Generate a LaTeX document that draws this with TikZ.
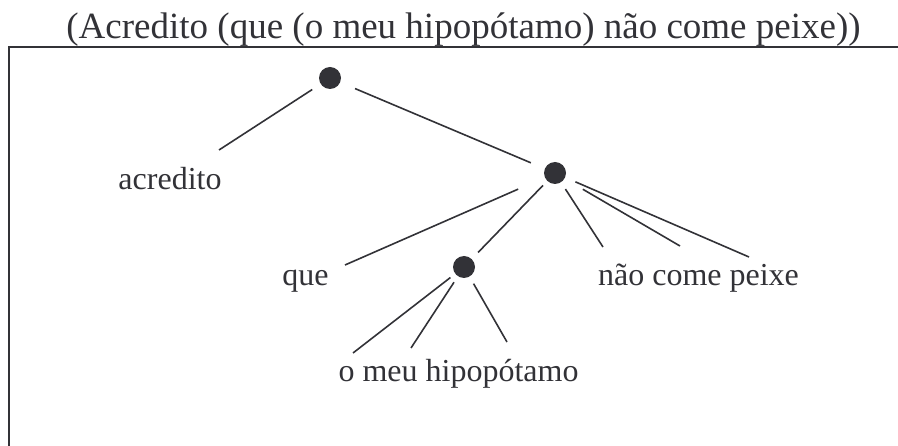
\documentclass[tikz,border=0pt]{standalone}
\usepackage{fontspec}
\setmainfont{Liberation Serif}
\definecolor{ink}{RGB}{50,50,55}
\begin{document}
\begin{tikzpicture}[x=1pt,y=-1pt,
  dot/.style={circle,fill=ink,draw=none,inner sep=0pt,minimum size=22pt},
  lbl/.style={anchor=base,inner sep=0pt,text=ink,font=\fontsize{32}{38}\selectfont},
  ttl/.style={anchor=base,inner sep=0pt,text=ink,font=\fontsize{37}{44}\selectfont},
  edge/.style={draw=ink,line width=1.6pt},
  frame/.style={draw=ink,line width=2.4pt}]
\path[use as bounding box] (0,0) rectangle (898,446);
\clip (0,0) rectangle (898,446);
% title and frame
\node[ttl] (title) at (463.5,39) {(Acredito (que (o meu hipopótamo) não come peixe))};
\draw[frame] (9,460) -- (9,47) -- (910,47);
% dots
\node[dot] (root) at (330,78) {};
\node[dot] (mid) at (555,173) {};
\node[dot] (low) at (464,267) {};
% labels
\node[lbl] (acr) at (170,190) {acredito};
\node[lbl] (que) at (305.5,286) {que};
\node[lbl] (ncp) at (698.5,286) {não come peixe};
\node[lbl] (hip) at (458.5,382) {o meu hipopótamo};
% free ends
\coordinate (eacr) at (219,150);
\coordinate (eque) at (345,265);
\coordinate (eh1) at (353,353);
\coordinate (eh2) at (411,348);
\coordinate (eh3) at (507,342);
\coordinate (en1) at (603,247);
\coordinate (en2) at (680,246);
\coordinate (en3) at (749,257);
% connectors
\draw[edge,shorten <=10pt] (root) -- (eacr);
\draw[edge,shorten <=16pt,shorten >=15pt] (root) -- (mid);
\draw[edge,shorten <=29pt] (mid) -- (eque);
\draw[edge,shorten <=6pt,shorten >=9pt] (mid) -- (low);
\draw[edge,shorten <=8pt] (mid) -- (en1);
\draw[edge,shorten <=21pt] (mid) -- (en2);
\draw[edge,shorten <=11pt] (mid) -- (en3);
\draw[edge,shorten <=6pt] (low) -- (eh1);
\draw[edge,shorten <=7pt] (low) -- (eh2);
\draw[edge,shorten <=8pt] (low) -- (eh3);
\end{tikzpicture}
\end{document}
